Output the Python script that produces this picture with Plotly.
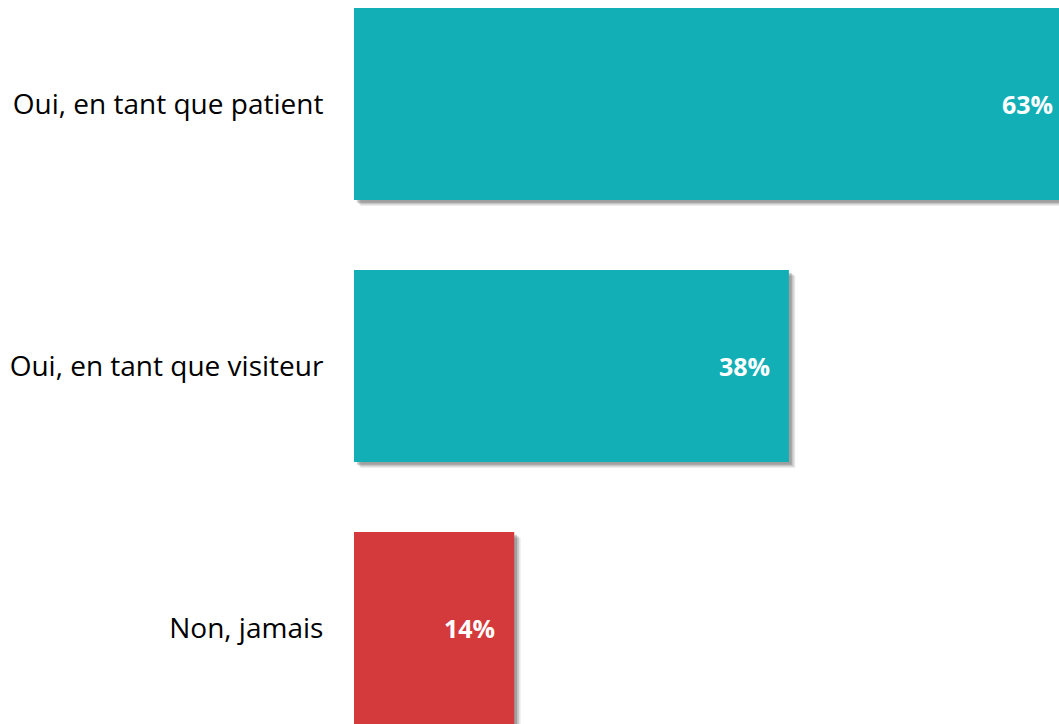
import plotly.graph_objects as go

categories = ["Oui, en tant que patient", "Oui, en tant que visiteur", "Non, jamais"]
values = [63, 38, 14]
labels = ["63%", "38%", "14%"]
colors = ["#13AFB7", "#13AFB7", "#D43A3B"]

BAR_W = 0.733
XMAX = 61.6

fig = go.Figure()

# soft drop shadow layers
for shift_x, shift_y, alpha in [(0.55, 0.022, 0.10), (0.40, 0.016, 0.14), (0.25, 0.010, 0.18)]:
    fig.add_trace(go.Bar(
        y=categories, x=values, base=shift_x, orientation="h",
        width=BAR_W, offset=-BAR_W / 2 + shift_y,
        marker=dict(color=f"rgba(0,0,0,{alpha})", line=dict(width=0)),
        hoverinfo="skip", showlegend=False,
    ))

fig.add_trace(go.Bar(
    y=categories, x=values, orientation="h",
    width=BAR_W, offset=-BAR_W / 2,
    marker=dict(color=colors, line=dict(width=0)),
    showlegend=False,
))

for cat, v, lab in zip(categories, values, labels):
    fig.add_annotation(
        x=min(v, XMAX), y=cat, text=lab, xanchor="right", yanchor="middle",
        xshift=-17 if v <= XMAX else -4, showarrow=False,
        font=dict(family="Open Sans", size=25, color="white", weight="bold"),
    )

fig.update_layout(
    width=1059, height=724,
    margin=dict(l=354, r=0, t=0, b=0),
    paper_bgcolor="white", plot_bgcolor="white",
    barmode="overlay",
    xaxis=dict(range=[0, XMAX], visible=False, fixedrange=True),
    yaxis=dict(
        categoryorder="array", categoryarray=categories,
        range=[2.366, -0.397],
        showgrid=False, zeroline=False, showline=False,
        ticks="outside", ticklen=24, tickcolor="rgba(0,0,0,0)",
        tickfont=dict(family="Open Sans", size=28, color="#000000"),
    ),
    font=dict(family="Open Sans"),
)

fig.write_html("out.html")
